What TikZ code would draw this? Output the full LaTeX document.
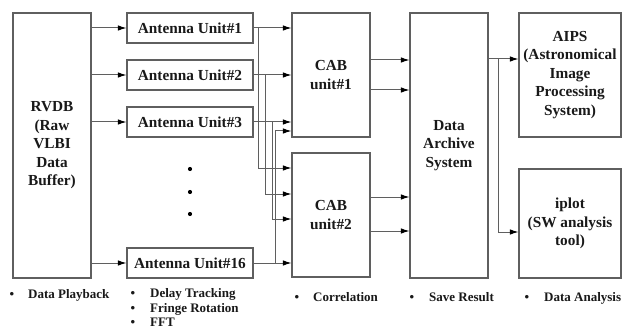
\documentclass[tikz,border=0pt]{standalone}
\usepackage{fontspec}
\setmainfont{Liberation Serif}
\usetikzlibrary{arrows.meta}
\definecolor{lc}{RGB}{95,95,95}
\definecolor{tc}{RGB}{25,25,25}
\tikzset{
  box/.style={draw=lc, line width=1.1pt, inner sep=0pt, align=center, text=tc,
    font=\fontsize{15.3}{18.5}\selectfont\bfseries},
  ln/.style={draw=lc, line width=1pt},
  arr/.style={ln, -{Latex[length=8.5pt,width=5.5pt,color=black]}},
  lab/.style={inner sep=0pt, text=tc, font=\fontsize{13}{15.5}\selectfont\bfseries},
  dotm/.style={circle, fill=black, inner sep=0pt, minimum size=4.2pt}
}
\begin{document}
\begin{tikzpicture}[x=1pt,y=-1pt]
\useasboundingbox[fill=white] (0,0) rectangle (622,329);
% boxes
\node[box, minimum width=78pt, minimum height=265pt] (rvdb) at (52,145.5) {RVDB\\(Raw\\VLBI\\Data\\Buffer)};
\node[box, minimum width=126pt, minimum height=30pt] (au1) at (190,28) {Antenna Unit\#1};
\node[box, minimum width=126pt, minimum height=30pt] (au2) at (190,75) {Antenna Unit\#2};
\node[box, minimum width=126pt, minimum height=30pt] (au3) at (190,122) {Antenna Unit\#3};
\node[box, minimum width=126pt, minimum height=30pt] (au16) at (190,263) {Antenna Unit\#16};
\node[box, minimum width=78pt, minimum height=124pt] (cab1) at (331,75) {CAB\\unit\#1};
\node[box, minimum width=78pt, minimum height=124pt] (cab2) at (331,215) {CAB\\unit\#2};
\node[box, minimum width=78pt, minimum height=265pt] (das) at (449,145.5) {Data\\Archive\\System};
\node[box, minimum width=102pt, minimum height=124pt] (aips) at (570,75) {AIPS\\(Astronomical\\Image\\Processing\\System)};
\node[box, minimum width=102pt, minimum height=109pt] (iplot) at (570,223.5) {iplot\\(SW analysis\\tool)};
% dots
\node[dotm] (d1) at (190,169) {};
\node[dotm] (d2) at (190,192) {};
\node[dotm] (d3) at (190,214) {};
% RVDB -> antenna units
\foreach \a in {au1,au2,au3,au16}{
  \draw[arr] (\a.west -| rvdb.east) -- (\a.west);
}
% antenna units -> CABs
\draw[arr] (au1.east) -- (au1.east -| cab1.west);
\draw[arr] (au2.east) -- (au2.east -| cab1.west);
\draw[arr] (au3.east) -- (au3.east -| cab1.west);
\draw[arr] (au16.east) -- (au16.east -| cab2.west);
\coordinate (v1) at (258,28);
\coordinate (v2) at (265,75);
\coordinate (v3) at (272,122);
\coordinate (v16) at (275,263);
\draw[arr] (v1) |- (cab2.west |- 0,168);
\draw[arr] (v2) |- (cab2.west |- 0,194);
\draw[arr] (v3) |- (cab2.west |- 0,219);
\draw[arr] (v16) |- (cab1.west |- 0,131);
% CABs -> archive
\draw[arr] (cab1.east |- 0,60) -- (das.west |- 0,60);
\draw[arr] (cab1.east |- 0,90) -- (das.west |- 0,90);
\draw[arr] (cab2.east |- 0,197) -- (das.west |- 0,197);
\draw[arr] (cab2.east |- 0,231) -- (das.west |- 0,231);
% archive -> AIPS / iplot
\draw[arr] (das.east |- 0,59) -- (aips.west |- 0,59);
\coordinate (s) at (498,59);
\draw[arr] (s) |- (iplot.west |- 0,232);
% bottom labels
\node[lab, anchor=base] (b1) at (12,298) {\textbullet};
\node[lab, anchor=base west] (t1) at (28,298) {Data Playback};
\node[lab, anchor=base] (b2) at (133,297) {\textbullet};
\node[lab, anchor=base west] (t2) at (150,297) {Delay Tracking};
\node[lab, anchor=base] (b3) at (133,312) {\textbullet};
\node[lab, anchor=base west] (t3) at (150,312) {Fringe Rotation};
\node[lab, anchor=base] (b4) at (133,326.5) {\textbullet};
\node[lab, anchor=base west] (t4) at (150,326.5) {FFT};
\node[lab, anchor=base] (b5) at (297,301) {\textbullet};
\node[lab, anchor=base west] (t5) at (313,301) {Correlation};
\node[lab, anchor=base] (b6) at (412,301) {\textbullet};
\node[lab, anchor=base west] (t6) at (429,301) {Save Result};
\node[lab, anchor=base] (b7) at (527,301) {\textbullet};
\node[lab, anchor=base west] (t7) at (544,301) {Data Analysis};
\end{tikzpicture}
\end{document}
